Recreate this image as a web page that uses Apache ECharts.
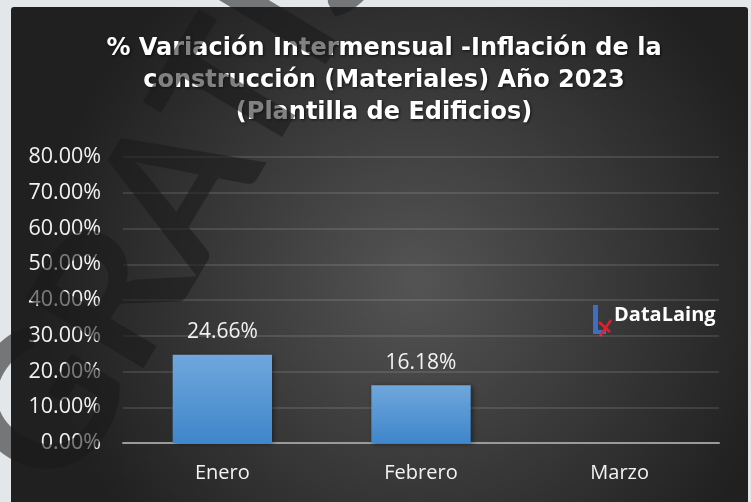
<!DOCTYPE html>
<html>
<head>
<meta charset="utf-8">
<script src="https://cdn.jsdelivr.net/npm/echarts@6/dist/echarts.min.js"></script>
<style>
  html, body { margin: 0; padding: 0; background: #e4e7ea; }
  #chart { width: 751px; height: 502px; }
</style>
</head>
<body>
<div id="chart"></div>
<script>
const months = ["Enero", "Febrero", "Marzo"];
const variation = [24.66, 16.18, null];
const yTicks = [0, 10, 20, 30, 40, 50, 60, 70, 80];

const chart = echarts.init(document.getElementById("chart"));

const option = {
  backgroundColor: "#e4e7ea",
  animation: false,
  title: {
    text: "% Variación Intermensual -Inflación de la\nconstrucción (Materiales) Año 2023\n(Plantilla de Edificios)",
    left: 379,
    top: 28,
    textAlign: "center",
    textStyle: {
      color: "#ffffff",
      fontFamily: "DejaVu Sans",
      fontWeight: "bold",
      fontSize: 24,
      lineHeight: 32,
      textShadowColor: "rgba(0,0,0,0.7)",
      textShadowBlur: 3,
      textShadowOffsetX: 1,
      textShadowOffsetY: 1,
    },
  },
  grid: { left: 123, right: 32, top: 157, bottom: 59, containLabel: false },
  xAxis: {
    type: "category",
    data: months,
    axisLine: { lineStyle: { color: "#9a9a9a", width: 2 } },
    axisTick: { show: false },
    axisLabel: {
      color: "#f2f2f2",
      fontFamily: "Open Sans",
      fontSize: 20,
      margin: 20,
    },
  },
  yAxis: {
    type: "value",
    min: yTicks[0],
    max: yTicks[yTicks.length - 1],
    interval: 10,
    axisLine: { show: false },
    axisTick: { show: false },
    splitLine: { lineStyle: { color: "rgba(255,255,255,0.11)", width: 2 } },
    axisLabel: {
      color: "#f2f2f2",
      fontFamily: "Open Sans",
      fontSize: 21.5,
      margin: 22,
      formatter: (v) => v.toFixed(2) + "%",
    },
  },
  series: [
    {
      type: "bar",
      data: variation,
      barWidth: "50%",
      itemStyle: {
        color: new echarts.graphic.LinearGradient(0, 0, 0, 1, [
          { offset: 0, color: "#6fa7dc" },
          { offset: 1, color: "#3f86cb" },
        ]),
        shadowColor: "rgba(0,0,0,0.45)",
        shadowBlur: 5,
        shadowOffsetX: 2,
        shadowOffsetY: 1,
      },
      label: {
        show: true,
        position: "top",
        distance: 12,
        color: "#f2f2f2",
        fontFamily: "Open Sans",
        fontSize: 21,
        formatter: (p) => p.value.toFixed(2) + "%",
      },
    },
  ],
  graphic: [
    // dark chart panel
    {
      type: "rect",
      z: -10,
      silent: true,
      shape: { x: 11, y: 7, width: 737, height: 500, r: [3, 3, 0, 0] },
      style: {
        fill: new echarts.graphic.RadialGradient(0.55, 0.55, 0.75, [
          { offset: 0, color: "#545454" },
          { offset: 1, color: "#202020" },
        ]),
      },
    },
    // DataLaing logo
    {
      type: "group",
      left: 593,
      top: 305,
      z: 5,
      children: [
        { type: "rect", shape: { x: 0, y: 0, width: 5, height: 29 }, style: { fill: "#3a6fc4" } },
        { type: "rect", shape: { x: 0, y: 25, width: 13, height: 4 }, style: { fill: "#3a6fc4" } },
        { type: "line", shape: { x1: 6, y1: 17, x2: 17, y2: 27 }, style: { stroke: "#e0202a", lineWidth: 2.5 } },
        { type: "line", shape: { x1: 18, y1: 15, x2: 7, y2: 31 }, style: { stroke: "#e0202a", lineWidth: 2.5 } },
        {
          type: "text",
          x: 21,
          y: 0,
          style: {
            text: "DataLaing",
            fill: "#ffffff",
            font: "bold 20px 'Open Sans'",
          },
        },
      ],
    },
    // diagonal watermark
    {
      type: "text",
      z: 100,
      silent: true,
      x: 180,
      y: 188,
      rotation: 1.03,
      style: {
        text: "GRATIS",
        fill: "rgba(25,25,25,0.55)",
        font: "bold 190px Lato",
        align: "center",
        verticalAlign: "middle",
      },
    },
  ],
};

chart.setOption(option);
</script>
</body>
</html>
